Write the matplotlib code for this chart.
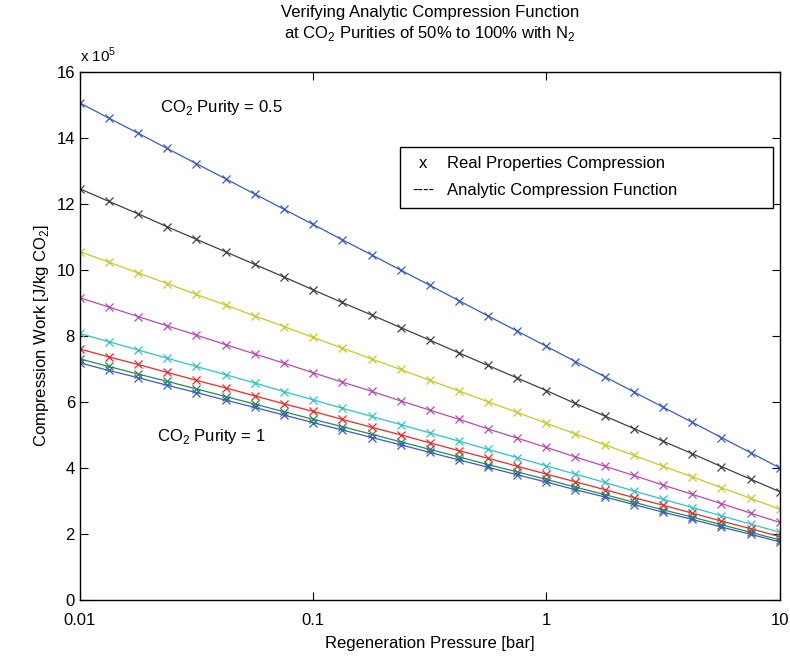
import matplotlib
matplotlib.use("Agg")
import matplotlib.pyplot as plt
from matplotlib.patches import Rectangle
from matplotlib.ticker import FixedLocator, NullLocator

plt.rcParams['font.family'] = ['Liberation Sans', 'DejaVu Sans']
plt.rcParams['mathtext.fontset'] = 'custom'
plt.rcParams['mathtext.rm'] = 'Liberation Sans'

# regeneration pressure [bar]
pressure = [0.01, 0.0133, 0.0178, 0.0237, 0.0316, 0.0422, 0.0562, 0.075,
            0.1, 0.133, 0.178, 0.237, 0.316, 0.422, 0.562, 0.75,
            1.0, 1.33, 1.78, 2.37, 3.16, 4.22, 5.62, 7.5, 10.0]

# compression work [x 1e5 J/kg CO2], purity 0.5 -> 1
work_a = [15.05, 14.59, 14.13, 13.67, 13.21, 12.75, 12.29, 11.83, 11.37, 10.91, 10.45, 9.99,
          9.53, 9.06, 8.60, 8.14, 7.68, 7.22, 6.76, 6.30, 5.84, 5.38, 4.92, 4.46, 4.00]
work_b = [12.45, 12.07, 11.69, 11.30, 10.92, 10.54, 10.16, 9.78, 9.39, 9.01, 8.63, 8.25,
          7.87, 7.48, 7.10, 6.72, 6.34, 5.95, 5.57, 5.19, 4.81, 4.43, 4.04, 3.66, 3.28]
work_c = [10.55, 10.23, 9.90, 9.58, 9.25, 8.93, 8.60, 8.28, 7.95, 7.63, 7.30, 6.98,
          6.65, 6.33, 6.00, 5.68, 5.35, 5.03, 4.70, 4.38, 4.05, 3.73, 3.40, 3.08, 2.75]
work_d = [9.15, 8.87, 8.58, 8.30, 8.02, 7.73, 7.45, 7.17, 6.88, 6.60, 6.32, 6.03,
          5.75, 5.47, 5.18, 4.90, 4.62, 4.33, 4.05, 3.77, 3.48, 3.20, 2.92, 2.63, 2.35]
work_e = [8.07, 7.82, 7.57, 7.32, 7.07, 6.82, 6.57, 6.31, 6.06, 5.81, 5.56, 5.31,
          5.06, 4.81, 4.56, 4.31, 4.06, 3.81, 3.56, 3.30, 3.05, 2.80, 2.55, 2.30, 2.05]
work_f = [7.60, 7.36, 7.13, 6.89, 6.65, 6.42, 6.18, 5.94, 5.71, 5.47, 5.23, 5.00,
          4.76, 4.52, 4.29, 4.05, 3.81, 3.58, 3.34, 3.10, 2.87, 2.63, 2.39, 2.16, 1.92]
work_g = [7.30, 7.07, 6.84, 6.62, 6.39, 6.16, 5.93, 5.70, 5.47, 5.25, 5.02, 4.79,
          4.56, 4.33, 4.10, 3.88, 3.65, 3.42, 3.19, 2.96, 2.73, 2.51, 2.28, 2.05, 1.82]
work_h = [7.18, 6.95, 6.73, 6.50, 6.28, 6.05, 5.83, 5.60, 5.37, 5.15, 4.92, 4.70,
          4.47, 4.24, 4.02, 3.79, 3.57, 3.34, 3.12, 2.89, 2.66, 2.44, 2.21, 1.99, 1.76]

series = [work_a, work_b, work_c, work_d, work_e, work_f, work_g, work_h]
colors = ['#3a5bbf', '#404040', '#c8c826', '#b44cb4', '#2ec4c4', '#f02a2a', '#2a8a4a', '#3a5bbf']

fig = plt.figure(figsize=(7.9, 6.59), dpi=100)
ax = fig.add_axes([0.101, 0.0895, 0.886, 0.802])

for w, c in zip(series, colors):
    ax.plot(pressure, w, '-', color=c, lw=0.9)
    ax.plot(pressure, w, 'x', color=c, ms=6, mew=0.9)

ax.set_xscale('log')
ax.set_xlim(0.01, 10)
ax.set_ylim(0, 16)
ax.xaxis.set_major_locator(FixedLocator([0.01, 0.1, 1, 10]))
ax.xaxis.set_minor_locator(NullLocator())
ax.set_xticklabels(['0.01', '0.1', '1', '10'])
ax.set_yticks(range(0, 17, 2))
ax.tick_params(direction='in', top=True, right=True, length=6, labelsize=12, width=0.8)
ax.tick_params(axis='x', pad=9)
for s in ax.spines.values():
    s.set_linewidth(1.0)

ax.set_xlabel('Regeneration Pressure [bar]', fontsize=12, labelpad=6)
ax.set_ylabel('Compression Work [J/kg CO$_2$]', fontsize=12)
ax.set_title('Verifying Analytic Compression Function\nat CO$_2$ Purities of 50% to 100% with N$_2$',
             fontsize=12, pad=24, linespacing=1.3)
ax.text(0.0, 1.012, 'x 10$^5$', transform=ax.transAxes, fontsize=11, ha='left', va='bottom')

ax.text(0.022, 14.9, 'CO$_2$ Purity = 0.5', fontsize=12, va='center')
ax.text(0.0215, 4.95, 'CO$_2$ Purity = 1', fontsize=12, va='center')

# legend box
ax.add_patch(Rectangle((0.457, 0.742), 0.533, 0.116, transform=ax.transAxes,
                       fill=True, fc='white', ec='black', lw=1.0, zorder=5))
ax.text(0.49, 0.825, 'x', transform=ax.transAxes, fontsize=12, va='center', ha='center', zorder=6)
ax.text(0.49, 0.775, '----', transform=ax.transAxes, fontsize=12, va='center', ha='center', zorder=6)
ax.text(0.525, 0.825, 'Real Properties Compression', transform=ax.transAxes, fontsize=12,
        va='center', zorder=6)
ax.text(0.525, 0.775, 'Analytic Compression Function', transform=ax.transAxes, fontsize=12,
        va='center', zorder=6)

fig.savefig('out.png', dpi=100)
